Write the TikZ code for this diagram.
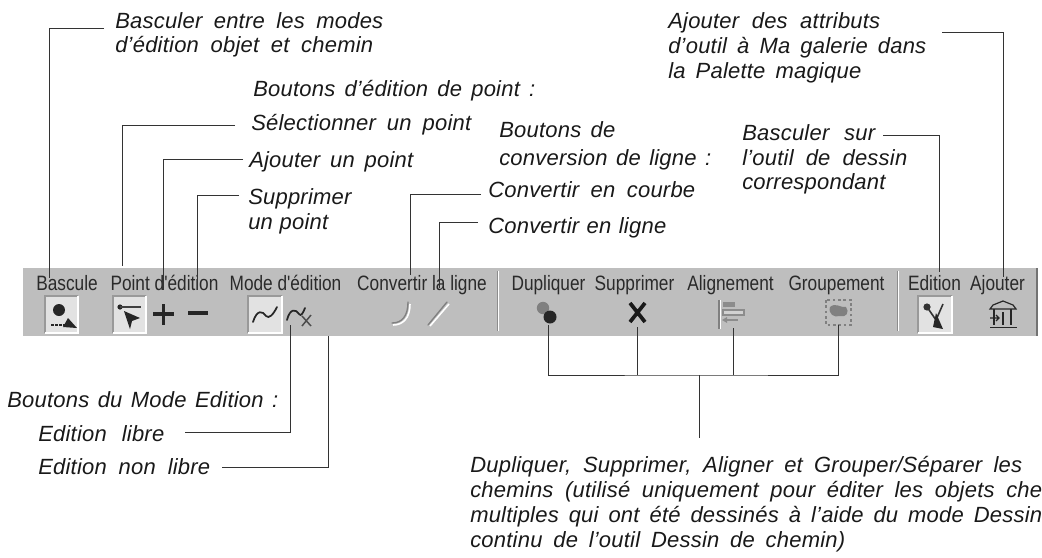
\documentclass[tikz,border=0pt]{standalone}
\usepackage{fontspec}
\setmainfont{Liberation Sans}
\newfontfamily\notefont[WordSpace=1.5,LetterSpace=1,ItalicFont={Liberation Sans Italic}]{Liberation Sans}
\newfontfamily\barfont[FakeStretch=0.83]{Liberation Sans}
\definecolor{panel}{HTML}{BEBEBE}
\definecolor{ink}{HTML}{333333}
\definecolor{bartext}{HTML}{2A2A2A}
\definecolor{well}{HTML}{E2E2E2}
\newcommand\fitline[2]{\makebox[#1\dimexpr 0.75pt\relax][s]{#2}}
\tikzset{
  note/.style={anchor=base west,inner sep=0pt,font=\notefont\itshape\fontsize{16.5pt}{20pt}\selectfont,text=black!90},
  barlabel/.style={anchor=base,inner sep=0pt,font=\barfont\fontsize{15.6pt}{18pt}\selectfont,text=bartext},
  lead/.style={draw=ink,line width=0.75pt},
  blk/.style={draw=black!85,line width=1.3pt,line cap=round,line join=round},
  dis/.style={draw=black!50,line width=1pt,line cap=round}
}
\begin{document}
\begin{tikzpicture}[x=0.75pt,y=-0.75pt]
\useasboundingbox (0,0) rectangle (1042,557);
\begin{scope}
\clip (0,0) rectangle (1042,557);
% toolbar panel
\fill[panel] (23,268) rectangle (1037,336);
\draw[black!55,line width=0.9pt] (1037,268) -- (1037,336);
% wells
\foreach \xa/\xb in {45/78,113/146,248/282,918/952}{
  \fill[well] (\xa,296) rectangle (\xb,333);
  \draw[black!40,line width=0.8pt] (\xa,333) -- (\xa,296) -- (\xb,296);
  \draw[white,line width=0.8pt] (\xb,296) -- (\xb,333) -- (\xa,333);
}
% separators
\foreach \x in {497,897}{
  \draw[black!45,line width=0.7pt] (\x,271) -- (\x,331);
  \draw[white,line width=0.7pt] (\x+1,271) -- (\x+1,331);
}
% toolbar labels
\node[barlabel] (lbascule) at (67,290) {Bascule};
\node[barlabel] (lpoint) at (164.5,290) {Point d'édition};
\node[barlabel] (lmode) at (285.5,290) {Mode d'édition};
\node[barlabel] (lconv) at (422,290) {Convertir la ligne};
\node[barlabel] (ldup) at (548.5,290) {Dupliquer};
\node[barlabel] (lsup) at (634.5,290) {Supprimer};
\node[barlabel] (lali) at (730.5,290) {Alignement};
\node[barlabel] (lgrp) at (836.5,290) {Groupement};
\node[barlabel] (ledi) at (934.5,290) {Edition};
\node[barlabel] (lajo) at (997.5,290) {Ajouter};
% icon: bascule
\fill[black!85] (59,310) circle (6);
\fill[black!85] (63,327) -- (68,318) -- (77,328) -- cycle;
\draw[black!85,line width=2pt,dash pattern=on 2pt off 1pt] (51,325) -- (66,325);
% icon: select point
\fill[black!85] (120,307) circle (2.6);
\draw[black!75,line width=1.1pt] (120,307) -- (141,307);
\fill[black!85] (124,311) -- (140,318) -- (132,321) -- (130,329) -- cycle;
% plus, minus
\draw[black!85,line width=2.6pt] (153,314) -- (174,314) (163.5,304) -- (163.5,325);
\draw[black!85,line width=2.8pt] (188,313) -- (208,313);
% edit curves
\draw[blk] (253,322) .. controls (257,309) and (263,311) .. (266,316) .. controls (269,319) and (273,315) .. (277,307);
\draw[blk] (287,320) .. controls (290,308) and (296,309) .. (299,314) .. controls (301,317) and (303,313) .. (305,308);
\draw[black!70,line width=1.1pt] (302,316) -- (311,326) (311,315) -- (302,326);
% convert icons (disabled)
\draw[white,line width=1.2pt] (393,325) .. controls (403,325) and (410,318) .. (410,304);
\draw[dis] (392,323) .. controls (402,323) and (408,316) .. (408,302);
\draw[white,line width=1.2pt] (430,326) -- (449,304);
\draw[dis] (428,325) -- (447,302);
% duplicate
\fill[black!50] (543,308) circle (6.2);
\fill[black!85] (550,317) circle (6.5);
% delete X
\draw[black!90,line width=2.8pt] (630,303) -- (645,322) (645,303) -- (630,322);
% align (disabled)
\draw[white,line width=1pt] (720.5,300) -- (720.5,329);
\draw[black!50,line width=1.2pt] (719,300) -- (719,329);
\fill[black!45] (723,302) rectangle (735,307);
\draw[black!45,line width=0.8pt,fill=panel!70] (723,310) rectangle (744,315);
\draw[black!45,line width=1pt] (724,320) -- (738,320);
\fill[black!45] (722,320) -- (727,317) -- (727,323) -- cycle;
% group (disabled)
\draw[black!50,line width=1.4pt,dash pattern=on 2pt off 2pt] (826,300) rectangle (851,325);
\fill[black!50] (830,307) .. controls (836,302) and (840,308) .. (846,307) .. controls (850,312) and (846,318) .. (840,316) .. controls (834,318) and (828,314) .. (830,307) -- cycle;
% edition tool
\fill[black!80] (927,307) circle (3.6);
\draw[black!80,line width=1.2pt] (927,307) -- (936,320) (943,304) -- (936,320);
\fill[black!85] (936,313) -- (943,329) -- (933,327) -- cycle;
% ajouter house
\draw[black!85,line width=0.9pt] (993,305) -- (1003,301) -- (1013,305) -- (1016,309) -- (990,309) -- cycle;
\draw[black!85,line width=0.9pt] (994,309) -- (994,325) (1003,312) -- (1003,325) (1011,309) -- (1011,325);
\draw[black!85,line width=1.4pt] (990,327.5) -- (1017,327.5);
\draw[black!85,line width=0.9pt] (990,318) -- (999,318) (996,315) -- (999,318) -- (996,321);
% notes
\node[note] (n1) at (115,28) {\fitline{268}{Basculer entre les modes}};
\node[note] (n1b) at (115,52.5) {\fitline{258}{d’édition objet et chemin}};
\node[note] (n2) at (253,96) {\fitline{282}{Boutons d’édition de point :}};
\node[note] (n3) at (251,130) {\fitline{220}{Sélectionner un point}};
\node[note] (n4) at (249,167) {\fitline{164}{Ajouter un point}};
\node[note] (n5) at (248,204) {Supprimer};
\node[note] (n5b) at (248,229) {\fitline{80}{un point}};
\node[note] (n6) at (499,137) {\fitline{116}{Boutons de}};
\node[note] (n6b) at (499,165) {\fitline{212}{conversion de ligne :}};
\node[note] (n7) at (488,197) {\fitline{207}{Convertir en courbe}};
\node[note] (n8) at (488,233) {\fitline{178}{Convertir en ligne}};
\node[note] (n9) at (668,28) {\fitline{212}{Ajouter des attributs}};
\node[note] (n9b) at (668,53) {\fitline{258}{d’outil à Ma galerie dans}};
\node[note] (n9c) at (668,78) {\fitline{193}{la Palette magique}};
\node[note] (n10) at (742,140) {\fitline{133}{Basculer sur}};
\node[note] (n10b) at (742,165) {\fitline{165}{l’outil de dessin}};
\node[note] (n10c) at (742,189) {correspondant};
\node[note] (n11) at (7,407) {\fitline{271}{Boutons du Mode Edition :}};
\node[note] (n12) at (38,441) {\fitline{126}{Edition libre}};
\node[note] (n13) at (38,474) {\fitline{172}{Edition non libre}};
\node[note] (n14) at (470,472) {\fitline{552}{Dupliquer, Supprimer, Aligner et Grouper/Séparer les}};
\node[note] (n14b) at (470,497) {\fitline{572}{chemins (utilisé uniquement pour éditer les objets che}};
\node[note] (n14c) at (470,522) {\fitline{572}{multiples qui ont été dessinés à l’aide du mode Dessin}};
\node[note] (n14d) at (470,547) {\fitline{375}{continu de l’outil Dessin de chemin)}};
% connector ends
\coordinate (e1) at (104,28);   \coordinate (b1) at (49,278);
\coordinate (e3) at (235,125);  \coordinate (b3) at (122,266);
\coordinate (e4) at (243,159);  \coordinate (b4) at (163,290);
\coordinate (e5) at (239,195);  \coordinate (b5) at (197,290);
\coordinate (e7) at (481,194);  \coordinate (b7) at (410,275);
\coordinate (e8) at (478,222);  \coordinate (b8) at (439,288);
\coordinate (e9) at (942,32);   \coordinate (b9) at (1003,277);
\coordinate (e10) at (883,135); \coordinate (b10) at (939,272);
\coordinate (e12) at (185,432); \coordinate (b12) at (290,325);
\coordinate (e13) at (222,467); \coordinate (b13) at (328,336);
\coordinate (d1) at (548,325);  \coordinate (d2) at (637,327);
\coordinate (d3) at (733,328);  \coordinate (d4) at (838,325);
\coordinate (junc) at (699,375); \coordinate (stem) at (699,438);
\draw[lead] (e1) -| (b1);
\draw[lead] (e3) -| (b3);
\draw[lead] (e4) -| (b4);
\draw[lead] (e5) -| (b5);
\draw[lead] (e7) -| (b7);
\draw[lead] (e8) -| (b8);
\draw[lead] (e9) -| (b9);
\draw[lead] (e10) -| (b10);
\draw[lead] (e12) -| (b12);
\draw[lead] (e13) -| (b13);
\draw[lead] (d1) |- (junc) -| (d4);
\draw[lead] (d2) -- (d2 |- junc);
\draw[lead] (d3) -- (d3 |- junc);
\draw[lead] (junc) -- (stem);
\end{scope}
\end{tikzpicture}
\end{document}
